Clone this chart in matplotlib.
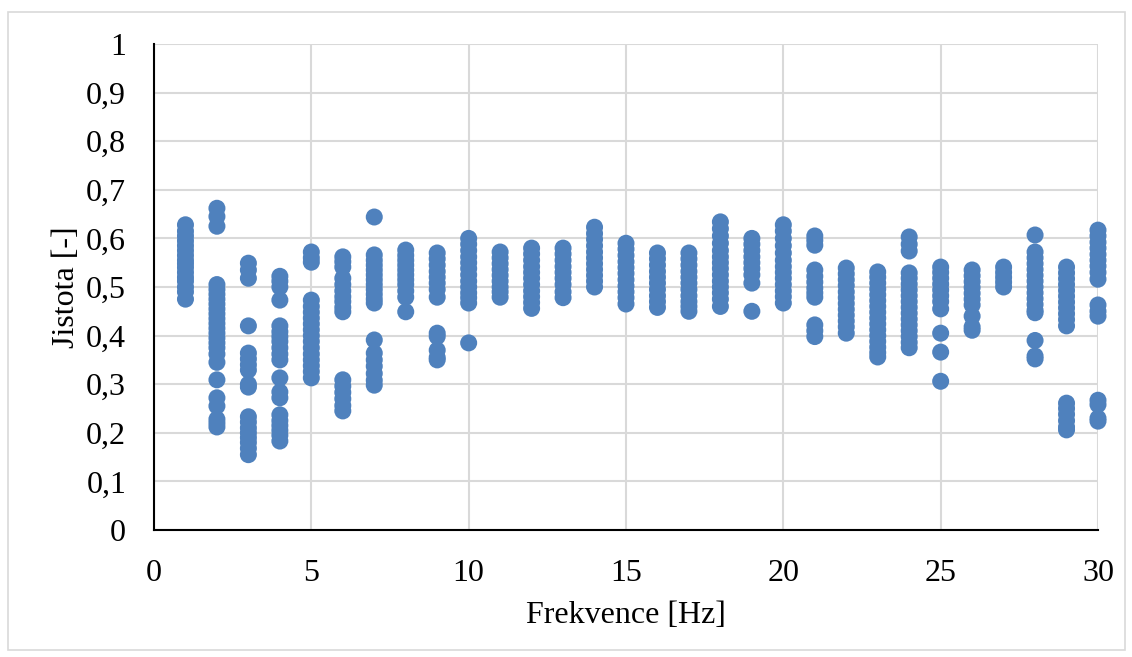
import matplotlib.pyplot as plt
from matplotlib.patches import Rectangle

# Jistota values per frequency [Hz]
hz01 = [0.475, 0.49, 0.50, 0.512, 0.52, 0.53, 0.54, 0.548, 0.555, 0.565, 0.575, 0.585, 0.595, 0.605, 0.615, 0.628]
hz02 = [0.662, 0.645, 0.625, 0.505, 0.495, 0.485, 0.475, 0.465, 0.455, 0.445, 0.435, 0.425, 0.415, 0.405,
        0.395, 0.385, 0.375, 0.362, 0.345, 0.309, 0.272, 0.255, 0.228, 0.22, 0.212]
hz03 = [0.549, 0.535, 0.518, 0.42, 0.364, 0.352, 0.34, 0.329, 0.3, 0.294, 0.233, 0.222, 0.21, 0.2, 0.19,
        0.18, 0.168, 0.155]
hz04 = [0.522, 0.512, 0.50, 0.473, 0.42, 0.408, 0.398, 0.388, 0.375, 0.362, 0.35, 0.313, 0.284, 0.272,
        0.237, 0.225, 0.215, 0.205, 0.195, 0.183]
hz05 = [0.572, 0.56, 0.551, 0.473, 0.46, 0.448, 0.436, 0.424, 0.412, 0.4, 0.388, 0.375, 0.362, 0.35,
        0.338, 0.326, 0.313]
hz06 = [0.562, 0.552, 0.541, 0.518, 0.505, 0.492, 0.48, 0.47, 0.458, 0.449, 0.309, 0.296, 0.283, 0.27,
        0.256, 0.245]
hz07 = [0.644, 0.566, 0.555, 0.545, 0.535, 0.525, 0.515, 0.505, 0.495, 0.485, 0.475, 0.467, 0.391, 0.364,
        0.35, 0.337, 0.322, 0.308, 0.298]
hz08 = [0.576, 0.565, 0.555, 0.545, 0.535, 0.525, 0.515, 0.505, 0.492, 0.479, 0.449]
hz09 = [0.57, 0.558, 0.545, 0.532, 0.52, 0.508, 0.495, 0.479, 0.405, 0.398, 0.37, 0.355, 0.35]
hz10 = [0.60, 0.588, 0.575, 0.562, 0.55, 0.538, 0.525, 0.512, 0.5, 0.488, 0.478, 0.467, 0.385]
hz11 = [0.572, 0.56, 0.548, 0.536, 0.524, 0.512, 0.5, 0.49, 0.479]
hz12 = [0.58, 0.568, 0.555, 0.542, 0.53, 0.518, 0.505, 0.492, 0.48, 0.468, 0.456]
hz13 = [0.58, 0.568, 0.555, 0.542, 0.53, 0.518, 0.505, 0.49, 0.478]
hz14 = [0.623, 0.61, 0.598, 0.585, 0.572, 0.56, 0.548, 0.536, 0.524, 0.512, 0.5]
hz15 = [0.59, 0.578, 0.565, 0.552, 0.54, 0.528, 0.515, 0.502, 0.49, 0.478, 0.465]
hz16 = [0.57, 0.558, 0.545, 0.532, 0.52, 0.508, 0.495, 0.482, 0.47, 0.458]
hz17 = [0.57, 0.558, 0.545, 0.532, 0.52, 0.508, 0.495, 0.482, 0.47, 0.46, 0.45]
hz18 = [0.634, 0.62, 0.605, 0.59, 0.575, 0.562, 0.55, 0.538, 0.525, 0.512, 0.5, 0.488, 0.475, 0.46]
hz19 = [0.60, 0.588, 0.575, 0.562, 0.55, 0.538, 0.525, 0.508, 0.45]
hz20 = [0.628, 0.615, 0.6, 0.585, 0.57, 0.555, 0.542, 0.53, 0.518, 0.505, 0.492, 0.48, 0.467]
hz21 = [0.605, 0.596, 0.586, 0.535, 0.522, 0.51, 0.498, 0.488, 0.479, 0.422, 0.41, 0.398]
hz22 = [0.539, 0.527, 0.515, 0.503, 0.49, 0.478, 0.466, 0.454, 0.442, 0.43, 0.418, 0.405]
hz23 = [0.531, 0.52, 0.508, 0.496, 0.484, 0.472, 0.46, 0.448, 0.436, 0.424, 0.412, 0.4, 0.388, 0.376,
        0.365, 0.356]
hz24 = [0.603, 0.588, 0.574, 0.529, 0.518, 0.506, 0.494, 0.482, 0.47, 0.458, 0.446, 0.434, 0.422, 0.41,
        0.398, 0.386, 0.375]
hz25 = [0.541, 0.53, 0.518, 0.506, 0.494, 0.482, 0.47, 0.455, 0.405, 0.366, 0.306]
hz26 = [0.535, 0.523, 0.511, 0.499, 0.487, 0.475, 0.463, 0.44, 0.418, 0.411]
hz27 = [0.541, 0.53, 0.52, 0.51, 0.5]
hz28 = [0.607, 0.572, 0.56, 0.548, 0.536, 0.524, 0.512, 0.5, 0.488, 0.476, 0.464, 0.452, 0.447, 0.39,
        0.358, 0.352]
hz29 = [0.541, 0.529, 0.517, 0.505, 0.493, 0.481, 0.469, 0.457, 0.445, 0.433, 0.42, 0.261, 0.25, 0.238,
        0.225, 0.212, 0.206]
hz30 = [0.617, 0.605, 0.592, 0.58, 0.567, 0.555, 0.543, 0.53, 0.516, 0.463, 0.45, 0.44, 0.267, 0.258,
        0.23, 0.224]

columns = [hz01, hz02, hz03, hz04, hz05, hz06, hz07, hz08, hz09, hz10,
           hz11, hz12, hz13, hz14, hz15, hz16, hz17, hz18, hz19, hz20,
           hz21, hz22, hz23, hz24, hz25, hz26, hz27, hz28, hz29, hz30]
freqs = list(range(1, 31))

x = []
y = []
for f, vals in zip(freqs, columns):
    x += [f] * len(vals)
    y += vals

plt.rcParams['font.family'] = ['Liberation Serif', 'DejaVu Serif']

fig = plt.figure(figsize=(11.32, 6.57), dpi=100)
fig.patches.append(Rectangle((8 / 1132, 1 - 650 / 657), 1117 / 1132, 638 / 657,
                             transform=fig.transFigure, fill=False, edgecolor='#d9d9d9', lw=1.2))
ax = fig.add_axes([154 / 1132, 1 - 530 / 657, 944 / 1132, 486 / 657])

ax.scatter(x, y, s=150, color='#4f81bd', edgecolors='none', zorder=3, clip_on=False)

ax.set_xlim(0, 30)
ax.set_ylim(0, 1)
ax.set_xticks(range(0, 31, 5))
yt = [i / 10 for i in range(11)]
ax.set_yticks(yt)
ax.set_yticklabels(['0' if v == 0 else ('1' if v == 1 else f'{v:.1f}'.replace('.', ',')) for v in yt])
ax.grid(True, color='#d9d9d9', lw=1.5, zorder=0)
ax.tick_params(length=0, labelsize=23)
ax.tick_params(axis='x', pad=21)
ax.tick_params(axis='y', pad=20)
for side in ['top', 'right']:
    ax.spines[side].set_visible(False)
for side in ['left', 'bottom']:
    ax.spines[side].set_color('black')
    ax.spines[side].set_linewidth(1.5)
    ax.spines[side].set_zorder(4)

ax.set_xlabel('Frekvence [Hz]', fontsize=23, labelpad=9)
ax.set_ylabel('Jistota [-]', fontsize=23, labelpad=4)

fig.savefig('out.png', dpi=100)
